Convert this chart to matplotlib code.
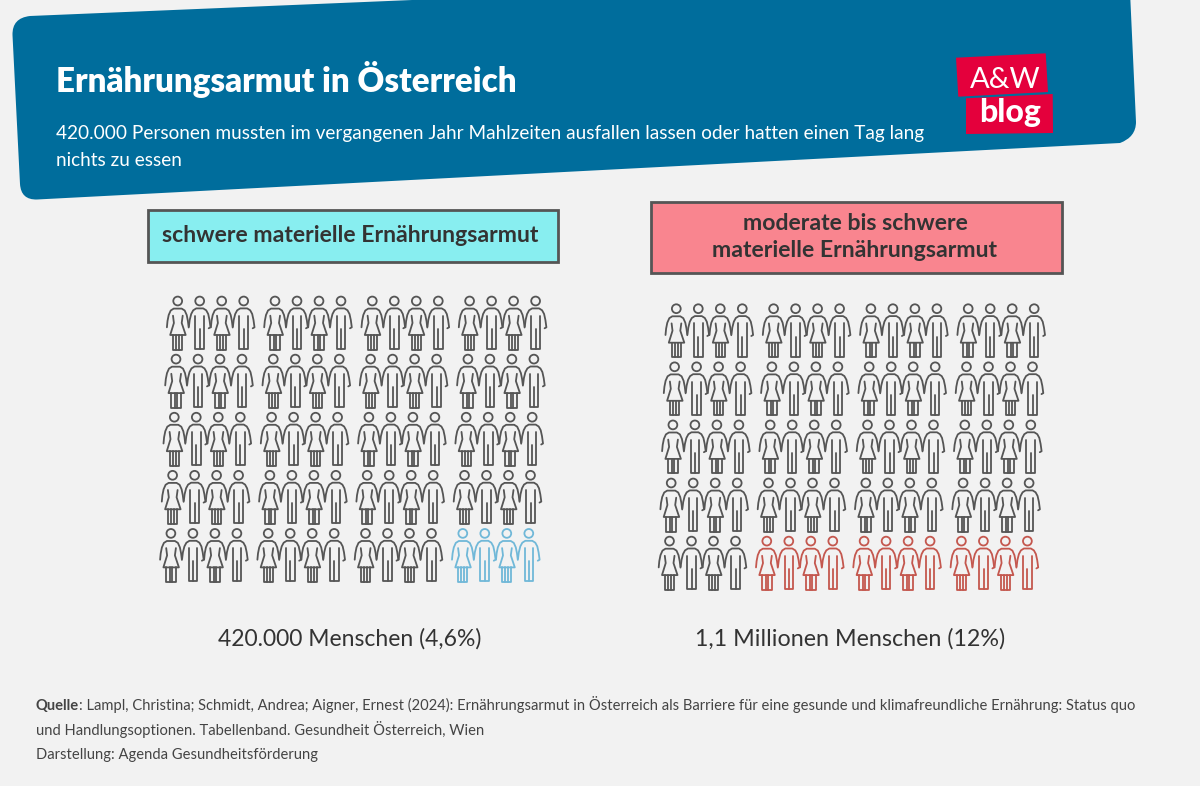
import matplotlib
matplotlib.use("Agg")
import matplotlib.pyplot as plt
from matplotlib.patches import Circle, PathPatch, Polygon, Rectangle
from matplotlib.path import Path

# data
panel_labels = ["schwere materielle Ernährungsarmut", "moderate bis schwere\nmaterielle Ernährungsarmut"]
panel_captions = ["420.000 Menschen (4,6%)", "1,1 Millionen Menschen (12%)"]
highlighted = [4, 12]
rows = 5
groups = 4
per_group = 4

BG = "#f2f2f2"
HEADER = "#006d9c"
GREY = "#555555"
BODY = ["Lato", "DejaVu Sans"]

fig = plt.figure(figsize=(12, 7.86), dpi=100, facecolor=BG)
ax = fig.add_axes([0, 0, 1, 1])
ax.set_xlim(0, 1200)
ax.set_ylim(786, 0)
ax.axis("off")

# header shape with rounded corners
verts = [(30, 16), (1129, -30), (1136, 122), (1136, 137), (1120, 143), (37, 199.5),
         (21, 200), (20, 184), (12.5, 35), (12, 18), (30, 16)]
codes = [Path.MOVETO, Path.LINETO, Path.LINETO, Path.CURVE3, Path.CURVE3, Path.LINETO,
         Path.CURVE3, Path.CURVE3, Path.LINETO, Path.CURVE3, Path.CURVE3]
ax.add_patch(PathPatch(Path(verts, codes), fc=HEADER, ec="none"))

ax.text(56, 80, "Ernährungsarmut in Österreich", color="white", fontsize=23.8, fontweight="heavy",
        family=BODY, va="center")
ax.text(56, 133, "420.000 Personen mussten im vergangenen Jahr Mahlzeiten ausfallen lassen oder hatten einen Tag lang",
        color="white", fontsize=13.7, family=BODY, va="center")
ax.text(56, 160, "nichts zu essen", color="white", fontsize=13.7, family=BODY, va="center")

# logo
RED = "#e4003c"
ax.add_patch(Polygon([(956, 57.7), (1045.7, 53.3), (1048, 92), (958.3, 96.7)], fc=RED, ec="none"))
ax.add_patch(Polygon([(966, 98.3), (1052.7, 94), (1053, 133), (966, 134)], fc=RED, ec="none"))
ax.text(1005, 88, "A&W", color="white", fontsize=21, family=BODY, ha="center", va="baseline")
ax.text(1010, 122, "blog", color="white", fontsize=23, fontweight="black", family=BODY, ha="center", va="baseline")

# label boxes
ax.add_patch(Rectangle((148, 210), 410, 52, fc="#88eef0", ec=GREY, lw=2))
ax.add_patch(Rectangle((651, 202), 411, 71, fc="#f9858f", ec=GREY, lw=2))
ax.text(350, 235, panel_labels[0], color="#333333", fontsize=16.6, fontweight="bold", family=BODY,
        ha="center", va="center")
ax.text(855, 237, panel_labels[1], color="#333333", fontsize=16.6, fontweight="bold", family=BODY,
        ha="center", va="center", linespacing=1.4)


def draw_person(x, y, woman, color):
    lw = 1.3
    ax.add_patch(Circle((x, y), 4.4, fc="none", ec=color, lw=lw))
    if woman:
        lines = [
            [(-10.8, 26.3), (-10.2, 20), (-9, 14), (-7, 9.5), (-4, 7.6), (4, 7.6), (7, 9.5), (9, 14), (10.2, 20), (11, 26.5)],
            [(-4.7, 14.7), (-3.8, 22), (-7.5, 34), (8, 34), (4, 22), (5, 14.7)],
            [(-4.7, 34), (-4.7, 48.5), (4.7, 48.5), (4.7, 34)],
            [(-1.3, 34), (-1.3, 48.5)],
            [(1.3, 34), (1.3, 48.5)],
        ]
    else:
        lines = [
            [(-10.8, 25.5), (-10, 19), (-8.5, 13), (-6.5, 9.3), (-3.5, 7.4), (3.5, 7.4), (6.5, 9.3), (8.5, 13), (9.8, 19), (10.8, 26.3), (9, 27.3)],
            [(-4.3, 14.7), (-4.3, 48), (4.3, 48), (4.3, 14.7)],
            [(0.1, 28), (0.1, 48)],
        ]
    for pts in lines:
        ax.plot([p[0] + x for p in pts], [p[1] + y for p in pts], color=color, lw=lw,
                solid_joinstyle="round", solid_capstyle="round")


def draw_panel(x0, y0, count, accent):
    total = rows * groups * per_group
    n = 0
    for r in range(rows):
        for g in range(groups):
            for i in range(per_group):
                color = accent if n >= total - count else GREY
                x = x0 + g * 97.3 + i * 22 - r * 1.7
                y = y0 + r * 58.1
                draw_person(x, y, i % 2 == 0, color)
                n += 1


draw_panel(177.7, 301, highlighted[0], "#70b8d8")
draw_panel(676.3, 308.7, highlighted[1], "#c4574e")

ax.text(350, 639, panel_captions[0], color="#333333", fontsize=16.5, family=BODY, ha="center", va="center")
ax.text(850, 639, panel_captions[1], color="#333333", fontsize=16.75, family=BODY, ha="center", va="center")

# source
SRC = "#444444"
ax.text(36, 710, "Quelle", color=SRC, fontsize=10.6, fontweight="bold", family=BODY, va="baseline")
ax.text(79, 710, ": Lampl, Christina; Schmidt, Andrea; Aigner, Ernest (2024): Ernährungsarmut in Österreich als Barriere für eine gesunde und klimafreundliche Ernährung: Status quo",
        color=SRC, fontsize=10.6, family=BODY, va="baseline")
ax.text(36, 735, "und Handlungsoptionen. Tabellenband. Gesundheit Österreich, Wien", color=SRC, fontsize=10.6,
        family=BODY, va="baseline")
ax.text(36, 759, "Darstellung: Agenda Gesundheitsförderung", color=SRC, fontsize=10.6, family=BODY, va="baseline")

fig.savefig("out.png", dpi=100, facecolor=BG)
